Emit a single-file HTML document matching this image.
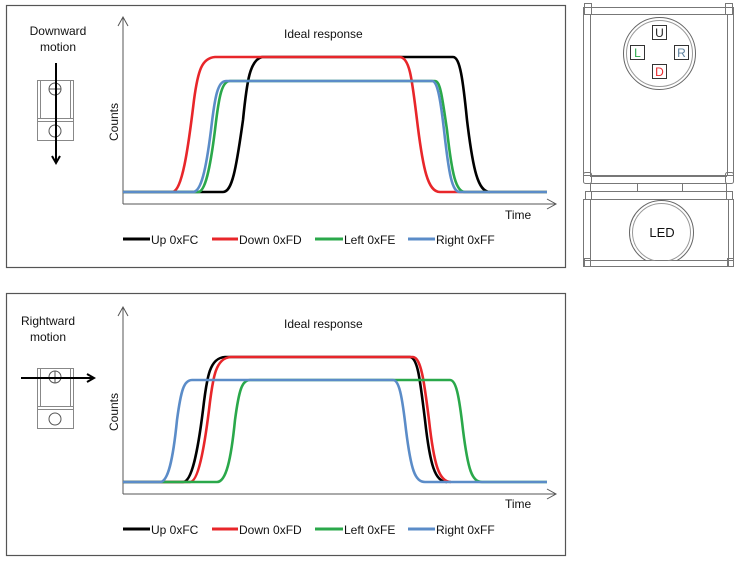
<!DOCTYPE html>
<html><head><meta charset="utf-8"><style>
html,body{margin:0;padding:0;background:#fff;}
svg{display:block;font-family:"Liberation Sans",Arial,sans-serif;}
</style></head><body>
<svg width="740" height="561" viewBox="0 0 740 561" xmlns="http://www.w3.org/2000/svg">
<defs>
<marker id="ah" markerWidth="10" markerHeight="10" refX="8" refY="5" orient="auto" markerUnits="userSpaceOnUse"><path d="M1,1 L8,5 L1,9" fill="none" stroke="#000" stroke-width="2"/></marker>
<marker id="ax" markerWidth="12" markerHeight="12" refX="10" refY="6" orient="auto" markerUnits="userSpaceOnUse"><path d="M1,1 L10,6 L1,11" fill="none" stroke="#555" stroke-width="1"/></marker>
<clipPath id="ledclip"><rect x="600" y="195" width="120" height="65.5"/></clipPath>
</defs>
<!-- panels -->
<rect x="6.5" y="5.5" width="559" height="262" fill="none" stroke="#555" stroke-width="1.2"/>
<rect x="6.5" y="293.5" width="559" height="262" fill="none" stroke="#555" stroke-width="1.2"/>

<!-- TOP PANEL -->
<text x="58" y="35" font-size="12" text-anchor="middle" fill="#111">Downward</text>
<text x="58" y="51" font-size="12" text-anchor="middle" fill="#111">motion</text>
<g stroke="#888" fill="none" stroke-width="1">
<rect x="37.5" y="80.5" width="36" height="38"/><rect x="40.5" y="80.5" width="30" height="38"/>
<rect x="37.5" y="121.5" width="36" height="19"/><rect x="37.5" y="118.5" width="36" height="3"/>
<circle cx="55" cy="89" r="6" stroke="#555"/><line x1="49" y1="89" x2="61" y2="89" stroke="#555"/>
<circle cx="55" cy="131" r="6" stroke="#555"/>
</g>
<line x1="56" y1="63" x2="56" y2="163" stroke="#000" stroke-width="2" marker-end="url(#ah)"/>
<line x1="123" y1="204" x2="123" y2="17" stroke="#555" stroke-width="1" marker-end="url(#ax)"/>
<line x1="123" y1="204" x2="556" y2="204" stroke="#555" stroke-width="1" marker-end="url(#ax)"/>
<text x="284" y="38" font-size="12" fill="#111">Ideal response</text>
<text x="505" y="219" font-size="12" fill="#111">Time</text>
<text transform="translate(118,122) rotate(-90)" font-size="12" text-anchor="middle" fill="#111">Counts</text>
<g fill="none" stroke-width="2.6" stroke-linejoin="round">
<path d="M123,192 H223 C232,192 236,170 243,120 C247,80 250,60 262,57 H453 C460,57 463,80 467,120 C473,170 478,192 490,192" stroke="#000"/>
<path d="M123,192 H172 C182,192 188,150 194,100 C198,70 202,58 215,57 H400 C410,58 412,80 417,120 C423,170 428,192 440,192 H547" stroke="#e8262a"/>
<path d="M123,192 H198 C205,192 210,170 215,130 C219,95 222,81 230,81 H435 C440,81 442,95 447,130 C452,175 456,192 465,192 H547" stroke="#2aa84a"/>
<path d="M123,192 H193 C201,192 206,170 211,130 C215,95 218,81 226,81 H432 C437,81 440,95 444,130 C449,175 452,192 460,192 H547" stroke="#5b8cc8"/>
</g>
<g font-size="12" fill="#111">
<line x1="123" y1="239" x2="150" y2="239" stroke="#000" stroke-width="3"/><text x="151" y="244">Up 0xFC</text>
<line x1="212" y1="239" x2="238" y2="239" stroke="#e8262a" stroke-width="3"/><text x="239" y="244">Down 0xFD</text>
<line x1="315" y1="239" x2="343" y2="239" stroke="#2aa84a" stroke-width="3"/><text x="344" y="244">Left 0xFE</text>
<line x1="408" y1="239" x2="435" y2="239" stroke="#5b8cc8" stroke-width="3"/><text x="436" y="244">Right 0xFF</text>
</g>

<!-- BOTTOM PANEL -->
<text x="48" y="325" font-size="12" text-anchor="middle" fill="#111">Rightward</text>
<text x="48" y="341" font-size="12" text-anchor="middle" fill="#111">motion</text>
<g stroke="#888" fill="none" stroke-width="1">
<rect x="37.5" y="368.5" width="36" height="38"/><rect x="40.5" y="368.5" width="30" height="38"/>
<rect x="37.5" y="409.5" width="36" height="19"/><rect x="37.5" y="406.5" width="36" height="3"/>
<circle cx="55" cy="377" r="6" stroke="#555"/><line x1="55" y1="371" x2="55" y2="383" stroke="#555"/>
<circle cx="55" cy="419" r="6" stroke="#555"/>
</g>
<line x1="21" y1="378" x2="94" y2="378" stroke="#000" stroke-width="2" marker-end="url(#ah)"/>
<line x1="123" y1="494" x2="123" y2="307" stroke="#555" stroke-width="1" marker-end="url(#ax)"/>
<line x1="123" y1="494" x2="556" y2="494" stroke="#555" stroke-width="1" marker-end="url(#ax)"/>
<text x="284" y="328" font-size="12" fill="#111">Ideal response</text>
<text x="505" y="508" font-size="12" fill="#111">Time</text>
<text transform="translate(118,412) rotate(-90)" font-size="12" text-anchor="middle" fill="#111">Counts</text>
<g fill="none" stroke-width="2.6" stroke-linejoin="round">
<path d="M123,482 H183 C192,482 198,450 203,410 C207,375 210,358 225,357 H410 C418,358 420,380 425,420 C430,465 435,482 447,482" stroke="#000"/>
<path d="M123,482 H190 C198,482 204,450 209,410 C213,375 216,358 231,357 H413 C421,358 424,380 429,420 C434,465 439,482 451,482" stroke="#e8262a"/>
<path d="M123,482 H217 C226,482 231,460 235,420 C239,390 242,380 250,380 H450 C456,380 459,395 463,430 C468,470 472,482 482,482 H547" stroke="#2aa84a"/>
<path d="M123,482 H160 C168,482 173,460 177,420 C181,390 184,380 192,380 H393 C399,380 402,395 406,430 C411,470 415,482 425,482 H547" stroke="#5b8cc8"/>
</g>
<g font-size="12" fill="#111">
<line x1="123" y1="529" x2="150" y2="529" stroke="#000" stroke-width="3"/><text x="151" y="534">Up 0xFC</text>
<line x1="212" y1="529" x2="238" y2="529" stroke="#e8262a" stroke-width="3"/><text x="239" y="534">Down 0xFD</text>
<line x1="315" y1="529" x2="343" y2="529" stroke="#2aa84a" stroke-width="3"/><text x="344" y="534">Left 0xFE</text>
<line x1="408" y1="529" x2="435" y2="529" stroke="#5b8cc8" stroke-width="3"/><text x="436" y="534">Right 0xFF</text>
</g>

<!-- DEVICE -->
<g stroke="#777" fill="none" stroke-width="1">
<rect x="583.5" y="7.5" width="150" height="168"/>
<line x1="583" y1="14.5" x2="734" y2="14.5"/>
<line x1="590.5" y1="14" x2="590.5" y2="176"/><line x1="727.5" y1="14" x2="727.5" y2="176"/>
<rect x="584.5" y="3.5" width="7" height="11"/><rect x="725.5" y="3.5" width="7" height="11"/>
<rect x="583.5" y="172.5" width="8" height="11" rx="2"/><rect x="725.5" y="172.5" width="8" height="11" rx="2"/>
<line x1="590" y1="176.5" x2="727" y2="176.5"/>
<rect x="590.5" y="183.5" width="136" height="8"/>
<line x1="637.5" y1="183" x2="637.5" y2="191"/><line x1="682.5" y1="183" x2="682.5" y2="191"/>
<rect x="585.5" y="191.5" width="6" height="8"/><rect x="726.5" y="191.5" width="6" height="8"/>
<rect x="583.5" y="199.5" width="150" height="67"/>
<line x1="590.5" y1="200" x2="590.5" y2="266"/><line x1="728.5" y1="200" x2="728.5" y2="266"/>
<line x1="584" y1="260.5" x2="733" y2="260.5"/>
<rect x="584.5" y="258.5" width="6" height="8"/><rect x="727.5" y="258.5" width="6" height="8"/>
<circle cx="659.5" cy="53.5" r="36" stroke="#666"/>
<circle cx="659.5" cy="53.5" r="33" stroke="#999"/>
<g clip-path="url(#ledclip)">
<circle cx="661.5" cy="232.5" r="32" stroke="#666"/>
<circle cx="661.5" cy="232.5" r="29" stroke="#999"/>
</g>
<rect x="652.5" y="25.5" width="14" height="14" stroke="#333"/>
<rect x="630.5" y="45.5" width="14" height="14" stroke="#333"/>
<rect x="674.5" y="45.5" width="14" height="14" stroke="#333"/>
<rect x="652.5" y="64.5" width="14" height="14" stroke="#333"/>
</g>
<g font-size="12" text-anchor="middle">
<text x="659.5" y="37" fill="#222">U</text>
<text x="637.5" y="57" fill="#2aa84a">L</text>
<text x="681.5" y="57" fill="#5b7f9c">R</text>
<text x="659.5" y="76" fill="#e8262a">D</text>
<text x="662" y="237" font-size="13" fill="#111">LED</text>
</g>
</svg>
</body></html>
